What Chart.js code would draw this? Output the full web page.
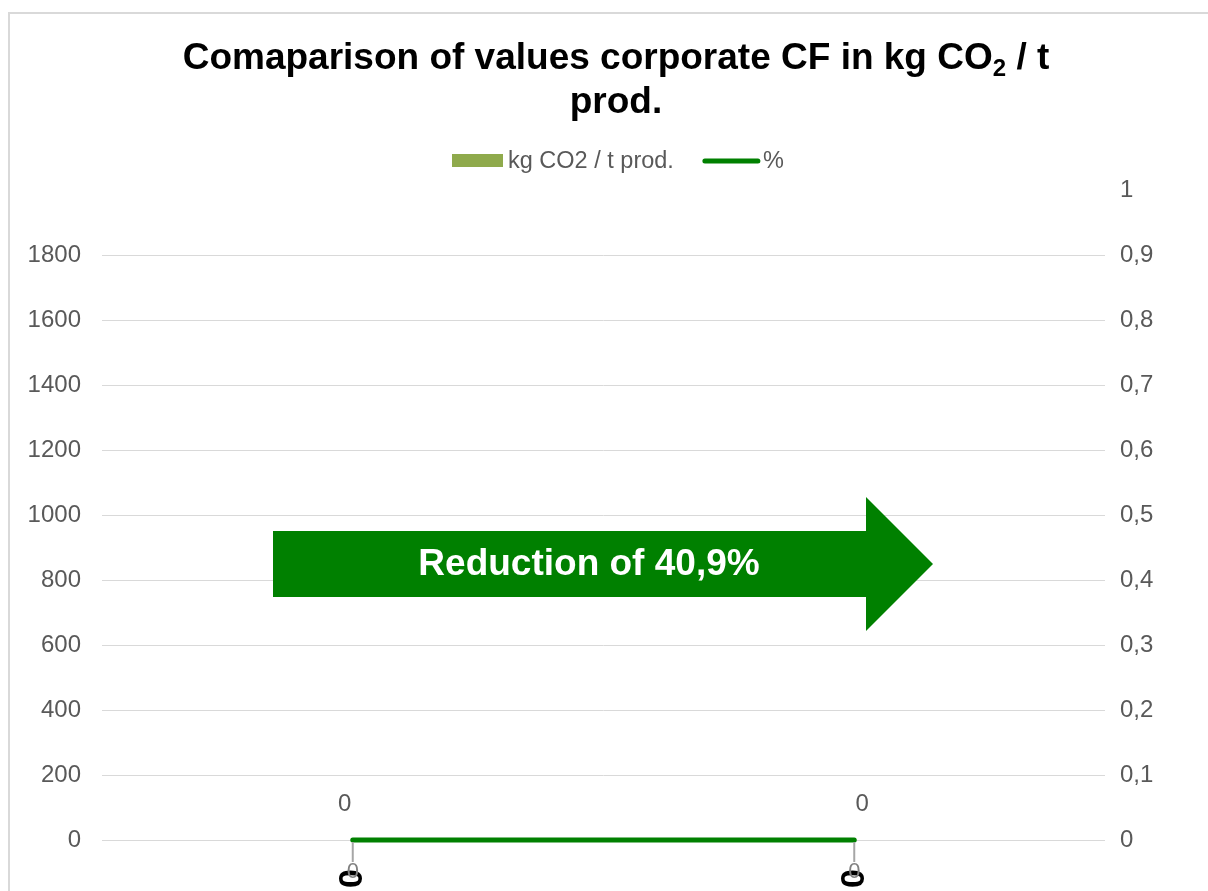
<!DOCTYPE html>
<html>
<head>
<meta charset="utf-8">
<script src="https://cdn.jsdelivr.net/npm/chart.js@4.4.1/dist/chart.umd.min.js"></script>
<style>
  html, body { margin: 0; padding: 0; background: #fff; overflow: hidden; }
  #frame { position: absolute; left: 8px; top: 12px; width: 1300px; height: 1000px; border: 2px solid #d9d9d9; }
  #title { position: absolute; left: 0; top: 35px; width: 1232px; text-align: center;
           font: bold 37px "Liberation Sans", Arial, sans-serif; line-height: 44px; color: #000; }
  #title sub { font-size: 24px; vertical-align: -7px; line-height: 0; }
  #wrap { position: absolute; left: 0; top: 0; width: 1208px; height: 891px; }
</style>
</head>
<body>
<div id="frame"></div>
<div id="wrap"><canvas id="chart" width="1208" height="891"></canvas></div>
<div id="title">Comaparison of values corporate CF in kg CO<sub>2</sub> / t<br>prod.</div>
<script>
// chart data
const categories = ['0', '0'];
const co2Values = [0, 0];       // kg CO2 / t prod.
const pctValues = [0, 0];       // %
const seriesNames = ['kg CO2 / t prod.', '%'];
const arrowText = 'Reduction of 40,9%';

const FONT = '"Liberation Sans", Arial, sans-serif';
const GREY = '#595959';
const BAR_COLOR = '#8faa4c';
const LINE_COLOR = '#008000';

// legend, data labels and the arrow are drawn by hand
const extrasPlugin = {
  id: 'extras',
  afterDatasetsDraw(chart) {
    const ctx = chart.ctx;
    ctx.save();

    // arrow shape
    ctx.fillStyle = LINE_COLOR;
    ctx.beginPath();
    ctx.moveTo(273, 531);
    ctx.lineTo(866, 531);
    ctx.lineTo(866, 497);
    ctx.lineTo(933, 564);
    ctx.lineTo(866, 631);
    ctx.lineTo(866, 597);
    ctx.lineTo(273, 597);
    ctx.closePath();
    ctx.fill();
    ctx.fillStyle = '#fff';
    ctx.font = 'bold 37px ' + FONT;
    ctx.textAlign = 'center';
    ctx.textBaseline = 'middle';
    ctx.fillText(arrowText, 589, 565);

    // bar value labels
    const barMeta = chart.getDatasetMeta(0);
    ctx.fillStyle = GREY;
    ctx.font = '24px ' + FONT;
    barMeta.data.forEach(function (el, i) {
      ctx.fillText(String(co2Values[i]), el.x - 8 + 16 * i, el.y - 36);
    });

    // line value labels with leader lines
    const lineMeta = chart.getDatasetMeta(1);
    lineMeta.data.forEach(function (el, i) {
      ctx.strokeStyle = '#a6a6a6';
      ctx.lineWidth = 2;
      ctx.beginPath();
      ctx.moveTo(el.x, el.y + 2);
      ctx.lineTo(el.x, el.y + 22);
      ctx.stroke();
      ctx.fillStyle = '#808080';
      ctx.font = '22px ' + FONT;
      ctx.fillText(String(pctValues[i]), el.x, el.y + 32);
    });

    // legend
    ctx.textAlign = 'left';
    ctx.font = '23.5px ' + FONT;
    ctx.fillStyle = BAR_COLOR;
    ctx.fillRect(452, 154, 51, 13);
    ctx.fillStyle = GREY;
    ctx.fillText(seriesNames[0], 508, 162);
    const w = ctx.measureText(seriesNames[0]).width;
    const lx = 508 + w + 31;
    ctx.strokeStyle = LINE_COLOR;
    ctx.lineWidth = 5;
    ctx.lineCap = 'round';
    ctx.beginPath();
    ctx.moveTo(lx, 161);
    ctx.lineTo(lx + 53, 161);
    ctx.stroke();
    ctx.fillText(seriesNames[1], lx + 58, 162);

    ctx.restore();
  }
};

new Chart(document.getElementById('chart'), {
  type: 'bar',
  data: {
    labels: categories,
    datasets: [{
      label: seriesNames[0],
      data: co2Values,
      backgroundColor: BAR_COLOR,
      yAxisID: 'y',
      order: 2
    }, {
      type: 'line',
      label: seriesNames[1],
      data: pctValues,
      borderColor: LINE_COLOR,
      borderWidth: 5,
      borderCapStyle: 'round',
      pointRadius: 0,
      clip: false,
      yAxisID: 'y1',
      order: 1
    }]
  },
  options: {
    responsive: false,
    animation: false,
    layout: { padding: { top: 190, left: 0, right: 0, bottom: 0 } },
    plugins: {
      legend: { display: false },
      title: { display: false },
      tooltip: { enabled: false }
    },
    scales: {
      x: {
        grid: { display: false },
        border: { display: false },
        ticks: {
          color: '#000',
          font: { family: FONT, size: 34, weight: 'bold' },
          minRotation: 90,
          maxRotation: 90,
          padding: 21
        },
        afterFit: function (a) { a.height = 51; }
      },
      y: {
        position: 'left',
        min: 0,
        max: 2000,
        border: { display: false },
        grid: {
          drawTicks: false,
          color: function (c) { return c.tick && c.tick.value === 2000 ? 'rgba(0,0,0,0)' : '#d9d9d9'; }
        },
        ticks: {
          stepSize: 200,
          color: GREY,
          padding: 21,
          font: { family: FONT, size: 24 },
          callback: function (v) { return v === 2000 ? '' : v; }
        },
        afterFit: function (a) { a.width = 102; }
      },
      y1: {
        position: 'right',
        min: 0,
        max: 1,
        border: { display: false },
        grid: { display: false, drawTicks: false },
        ticks: {
          stepSize: 0.1,
          color: GREY,
          padding: 15,
          font: { family: FONT, size: 24 },
          callback: function (v) { return String(Math.round(v * 10) / 10).replace('.', ','); }
        },
        afterFit: function (a) { a.width = 103; }
      }
    }
  },
  plugins: [extrasPlugin]
});
</script>
</body>
</html>
